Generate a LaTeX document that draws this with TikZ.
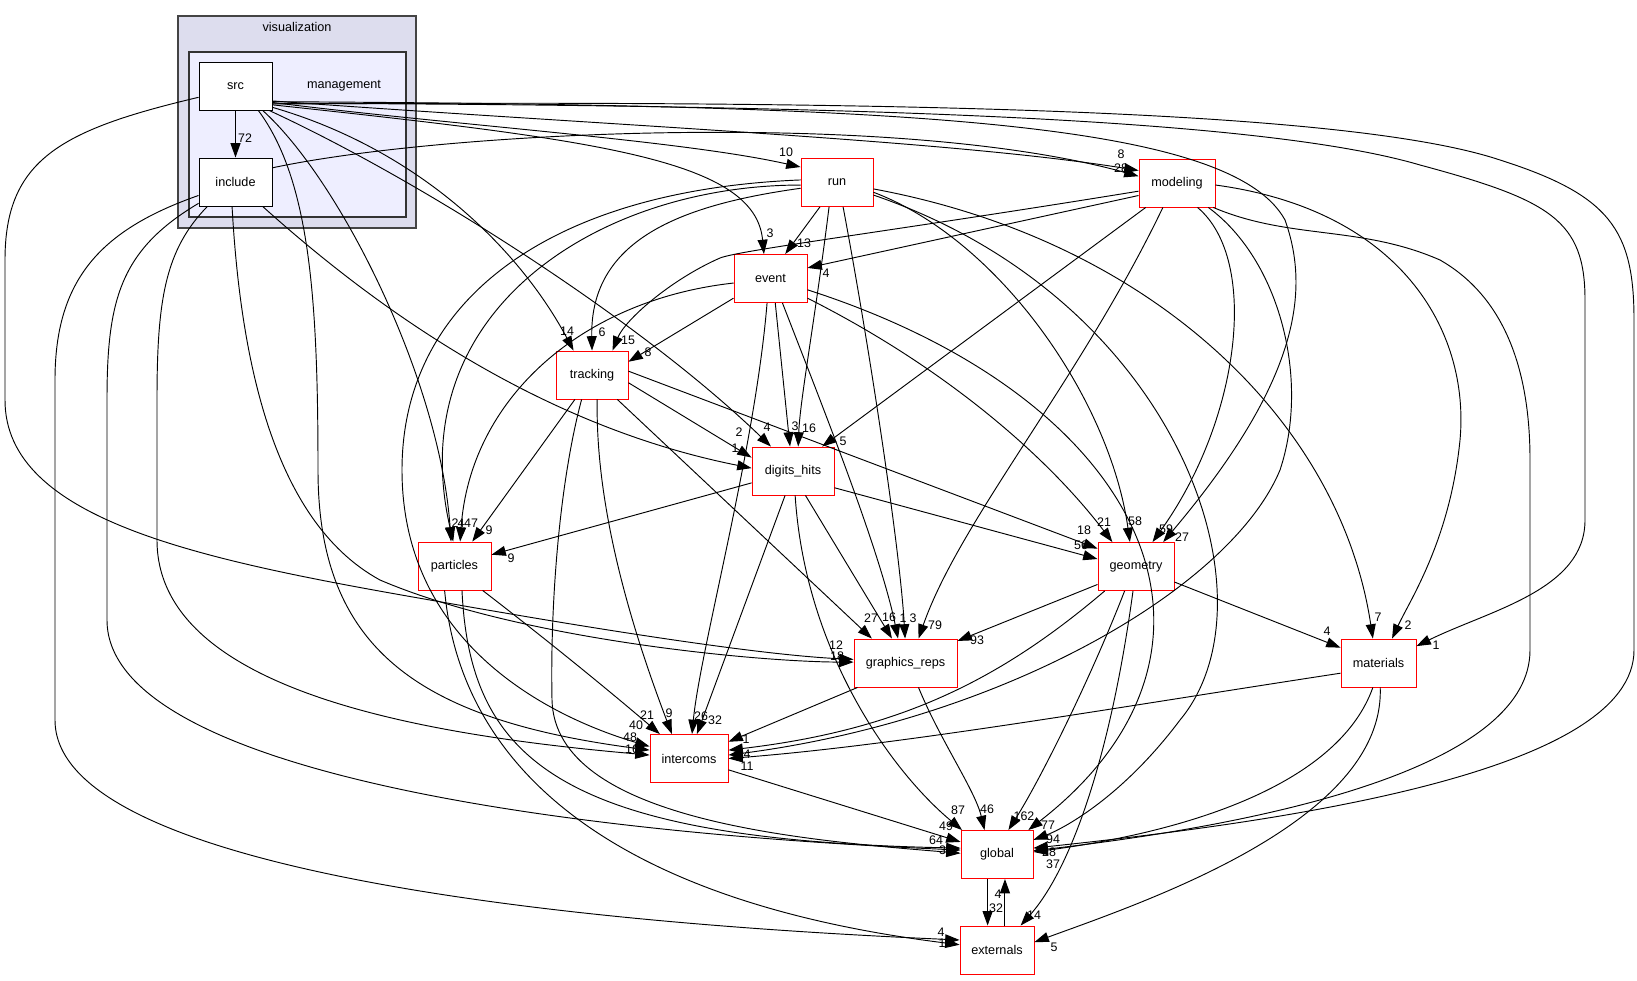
\documentclass[tikz,border=0pt]{standalone}
\usepackage{fontspec}
\setmainfont{Liberation Sans}
\usetikzlibrary{arrows.meta}
\definecolor{outerfill}{HTML}{DDDDEE}
\definecolor{innerfill}{HTML}{EEEEFF}
\definecolor{clborder}{HTML}{444444}
\begin{document}
\begin{tikzpicture}[x=0.03cm,y=-0.03cm,
  rbox/.style={draw=red, fill=white, line width=0.8pt, minimum height=1.44cm, inner sep=0pt, font=\fontsize{10.8}{12}\selectfont},
  bbox/.style={draw=black, fill=white, line width=0.8pt, minimum height=1.44cm, inner sep=0pt, font=\fontsize{10.8}{12}\selectfont},
  cltext/.style={inner sep=0pt, font=\fontsize{10.8}{12}\selectfont},
  dep/.style={draw=black, line width=0.8pt, -{Triangle[length=0.43cm,width=0.3cm]}},
  elab/.style={inner sep=0pt, font=\fontsize{10.6}{11}\selectfont}]
\useasboundingbox (0,0) rectangle (1637,980);
% clusters
\draw[fill=outerfill, draw=clborder, line width=1.3pt] (178,16) rectangle (416,228);
\node[cltext] (vislabel) at (297,27) {visualization};
\draw[fill=innerfill, draw=black!80, line width=1pt] (189,52) rectangle (406,217);
\node[cltext] (mgmtlabel) at (344,86) {management};
% nodes
\node[bbox, minimum width=2.19cm] (src) at (235.5,86) {src};
\node[bbox, minimum width=2.19cm] (include) at (235.5,182) {include};
\node[rbox, minimum width=2.16cm] (run) at (837,182.5) {run};
\node[rbox, minimum width=2.28cm] (modeling) at (1177,183) {modeling};
\node[rbox, minimum width=2.19cm] (event) at (770.5,278.5) {event};
\node[rbox, minimum width=2.16cm] (tracking) at (592,375) {tracking};
\node[rbox, minimum width=2.46cm] (digits_hits) at (793,471) {digits\_hits};
\node[rbox, minimum width=2.19cm] (particles) at (454.5,566) {particles};
\node[rbox, minimum width=2.28cm] (geometry) at (1136,566.5) {geometry};
\node[rbox, minimum width=3.09cm] (graphics_reps) at (905.5,663) {graphics\_reps};
\node[rbox, minimum width=2.25cm] (materials) at (1378.5,663) {materials};
\node[rbox, minimum width=2.34cm] (intercoms) at (689,758.5) {intercoms};
\node[rbox, minimum width=2.16cm] (global) at (997,854.5) {global};
\node[rbox, minimum width=2.22cm] (externals) at (997,950) {externals};
% edges from src
\draw[dep] (src.south) -- (include.north);
\draw[dep] (src.-24) .. controls (450,125) and (680,140) .. (run.157);
\draw[dep] (src.-22) .. controls (600,125) and (950,140) .. (modeling.162);
\draw[dep] (src.-27) .. controls (600,140) and (755,160) .. (event.105);
\draw[dep] (src.-30) .. controls (420,150) and (520,250) .. (tracking.127);
\draw[dep] (src.-36) .. controls (420,180) and (640,320) .. (digits_hits.132);
\draw[dep] (src.-42) .. controls (340,180) and (440,380) .. (particles.98);
\draw[dep] (src.-47) .. controls (310,180) and (318,300) .. (318,470) .. controls (318,650) and (420,720) .. (intercoms.168);
\draw[dep] (src.-163) .. controls (60,130) and (5,160) .. (5,260) -- (5,400) .. controls (5,520) and (200,560) .. (430,600) .. controls (600,630) and (760,655) .. (graphics_reps.176);
\draw[dep] (src.-23) .. controls (900,105) and (1230,120) .. (1285,220) .. controls (1310,290) and (1300,380) .. (geometry.42);
\draw[dep] (src.-25) .. controls (800,105) and (1250,115) .. (1420,165) .. controls (1550,200) and (1585,220) .. (1585,300) -- (1585,520) .. controls (1585,590) and (1490,610) .. (materials.24);
\draw[dep] (src.-26) .. controls (900,100) and (1350,110) .. (1500,160) .. controls (1610,195) and (1634,230) .. (1634,320) -- (1634,650) .. controls (1634,770) and (1300,820) .. (global.10);
% edges from include
\draw[dep] (include.21) .. controls (450,130) and (900,110) .. (modeling.170);
\draw[dep] (include.-98) .. controls (240,350) and (270,520) .. (380,580) .. controls (520,640) and (760,662) .. (graphics_reps.179);
\draw[dep] (include.-42) .. controls (400,330) and (560,430) .. (digits_hits.176);
\draw[dep] (include.-139) .. controls (165,250) and (157,300) .. (157,400) -- (157,540) .. controls (157,690) and (420,735) .. (intercoms.175);
\draw[dep] (include.-150) .. controls (120,250) and (107,300) .. (107,400) -- (107,620) .. controls (107,760) and (500,830) .. (global.173);
\draw[dep] (include.-160) .. controls (100,230) and (55,280) .. (55,380) -- (55,720) .. controls (55,860) and (500,920) .. (externals.165);
% edges from run
\draw[dep] (run.-125) -- (event.59);
\draw[dep] (run.-171) .. controls (680,205) and (590,240) .. (tracking.90);
\draw[dep] (run.-176) .. controls (600,185) and (400,310) .. (particles.93);
\draw[dep] (run.176) .. controls (550,190) and (402,300) .. (402,470) .. controls (402,650) and (560,720) .. (intercoms.163);
\draw[dep] (run.-108) .. controls (815,320) and (800,400) .. (digits_hits.78);
\draw[dep] (run.-76) .. controls (870,350) and (900,550) .. (graphics_reps.91);
\draw[dep] (run.-15) .. controls (1000,240) and (1110,400) .. (geometry.104);
\draw[dep] (run.-10) .. controls (1150,240) and (1340,420) .. (materials.103);
\draw[dep] (run.-19) .. controls (1180,300) and (1280,600) .. (1180,720) .. controls (1120,800) and (1060,830) .. (global.22);
% edges from event
\draw[dep] (event.-152) -- (tracking.20);
\draw[dep] (event.-173) .. controls (580,300) and (470,400) .. (particles.77);
\draw[dep] (event.-79) -- (digits_hits.97);
\draw[dep] (event.-64) .. controls (820,400) and (880,550) .. (graphics_reps.107);
\draw[dep] (event.-98) .. controls (755,450) and (700,650) .. (intercoms.83);
\draw[dep] (event.-28) .. controls (950,370) and (1050,460) .. (geometry.134);
\draw[dep] (event.-17) .. controls (1150,400) and (1260,650) .. (global.38);
% edges from modeling
\draw[dep] (modeling.-162) -- (event.16);
\draw[dep] (modeling.-168) .. controls (900,230) and (740,250) .. (720,258) .. controls (670,280) and (625,320) .. (tracking.50);
\draw[dep] (modeling.-142) -- (digits_hits.40);
\draw[dep] (modeling.-120) .. controls (1080,380) and (960,520) .. (graphics_reps.62);
\draw[dep] (modeling.-50) .. controls (1260,260) and (1240,420) .. (geometry.56);
\draw[dep] (modeling.-38) .. controls (1280,260) and (1310,380) .. (1280,470) .. controls (1230,590) and (1000,720) .. (intercoms.5);
\draw[dep] (modeling.-3) .. controls (1400,210) and (1470,330) .. (1460,440) .. controls (1450,540) and (1410,600) .. (materials.61);
\draw[dep] (modeling.-34) .. controls (1290,240) and (1360,225) .. (1440,260) .. controls (1510,300) and (1530,380) .. (1530,460) -- (1530,650) .. controls (1530,760) and (1300,820) .. (global.6);
% edges from tracking
\draw[dep] (tracking.-125) -- (particles.54);
\draw[dep] (tracking.-12) -- (digits_hits.162);
\draw[dep] (tracking.6) -- (geometry.155);
\draw[dep] (tracking.-44) -- (graphics_reps.144);
\draw[dep] (tracking.-78) .. controls (595,520) and (640,650) .. (intercoms.125);
\draw[dep] (tracking.-113) .. controls (560,480) and (550,600) .. (552,700) .. controls (555,820) and (800,840) .. (global.178);
% edges from digits_hits
\draw[dep] (digits_hits.-164) -- (particles.17);
\draw[dep] (digits_hits.-108) -- (intercoms.72);
\draw[dep] (digits_hits.-63) -- (graphics_reps.119);
\draw[dep] (digits_hits.-85) .. controls (805,650) and (890,770) .. (global.145);
\draw[dep] (digits_hits.-22) -- (geometry.169);
% edges from particles
\draw[dep] (particles.-41) .. controls (560,650) and (620,700) .. (intercoms.140);
\draw[dep] (particles.-73) .. controls (470,760) and (560,840) .. (global.170);
\draw[dep] (particles.-112) .. controls (460,760) and (600,900) .. (externals.172);
% edges from graphics_reps
\draw[dep] (graphics_reps.-153) -- (intercoms.23);
\draw[dep] (graphics_reps.-62) .. controls (940,740) and (975,790) .. (global.117);
% edges from geometry
\draw[dep] (geometry.-155) -- (graphics_reps.23);
\draw[dep] (geometry.-142) .. controls (1000,680) and (900,730) .. (intercoms.12);
\draw[dep] (geometry.-115) .. controls (1090,680) and (1040,780) .. (global.65);
\draw[dep] (geometry.-97) .. controls (1110,760) and (1070,870) .. (externals.46);
\draw[dep] (geometry.-22) -- (materials.158);
% edges from materials
\draw[dep] (materials.-165) .. controls (1100,710) and (900,745) .. (intercoms.0);
\draw[dep] (materials.-103) .. controls (1340,780) and (1200,830) .. (global.4);
\draw[dep] (materials.-86) .. controls (1385,820) and (1150,900) .. (externals.12);
% others
\draw[dep] (intercoms.-16) -- (global.161);
\draw[dep] (global.-111) -- (externals.111);
\draw[dep] (externals.72) -- (global.-72);
% labels
\node[elab] (l1) at (245,138) {72};
\node[elab] (l2) at (786,152) {10};
\node[elab] (l3) at (1121,154) {8};
\node[elab] (l4) at (1121,168) {28};
\node[elab] (l5) at (770,233) {3};
\node[elab] (l6) at (804,243) {13};
\node[elab] (l7) at (826,273) {4};
\node[elab] (l8) at (567,331) {14};
\node[elab] (l9) at (602,332) {6};
\node[elab] (l10) at (628,340) {15};
\node[elab] (l11) at (648,352) {8};
\node[elab] (l12) at (739,432) {2};
\node[elab] (l13) at (735,448) {1};
\node[elab] (l14) at (767,427) {4};
\node[elab] (l15) at (795,426) {3};
\node[elab] (l16) at (809,428) {16};
\node[elab] (l17) at (843,441) {5};
\node[elab] (l18) at (455,523) {2};
\node[elab] (l19) at (461,523) {4};
\node[elab] (l20) at (471,523) {47};
\node[elab] (l21) at (489,530) {9};
\node[elab] (l22) at (511,558) {9};
\node[elab] (l23) at (1104,522) {21};
\node[elab] (l24) at (1135,521) {58};
\node[elab] (l25) at (1166,529) {59};
\node[elab] (l26) at (1182,537) {27};
\node[elab] (l27) at (1084,530) {18};
\node[elab] (l28) at (1081,545) {56};
\node[elab] (l29) at (871,618) {27};
\node[elab] (l30) at (889,617) {16};
\node[elab] (l31) at (903,618) {1};
\node[elab] (l32) at (913,618) {3};
\node[elab] (l33) at (935,625) {79};
\node[elab] (l34) at (977,640) {93};
\node[elab] (l35) at (836,645) {12};
\node[elab] (l36) at (837,656) {18};
\node[elab] (l37) at (1327,631) {4};
\node[elab] (l38) at (1378,617) {7};
\node[elab] (l39) at (1408,625) {2};
\node[elab] (l40) at (1436,645) {1};
\node[elab] (l41) at (647,715) {21};
\node[elab] (l42) at (669,713) {9};
\node[elab] (l43) at (636,725) {40};
\node[elab] (l44) at (630,737) {48};
\node[elab] (l45) at (632,749) {16};
\node[elab] (l46) at (701,716) {26};
\node[elab] (l47) at (715,720) {32};
\node[elab] (l48) at (746,739) {1};
\node[elab] (l49) at (747,754) {4};
\node[elab] (l50) at (747,766) {11};
\node[elab] (l51) at (958,810) {87};
\node[elab] (l52) at (987,809) {46};
\node[elab] (l53) at (1024,816) {162};
\node[elab] (l54) at (1048,825) {77};
\node[elab] (l55) at (1053,839) {94};
\node[elab] (l56) at (1049,852) {28};
\node[elab] (l57) at (1053,864) {37};
\node[elab] (l58) at (946,826) {49};
\node[elab] (l59) at (936,840) {64};
\node[elab] (l60) at (946,850) {35};
\node[elab] (l61) at (998,894) {4};
\node[elab] (l62) at (996,908) {32};
\node[elab] (l63) at (1034,915) {14};
\node[elab] (l64) at (1054,947) {5};
\node[elab] (l65) at (941,932) {4};
\node[elab] (l66) at (942,943) {1};
\end{tikzpicture}
\end{document}
